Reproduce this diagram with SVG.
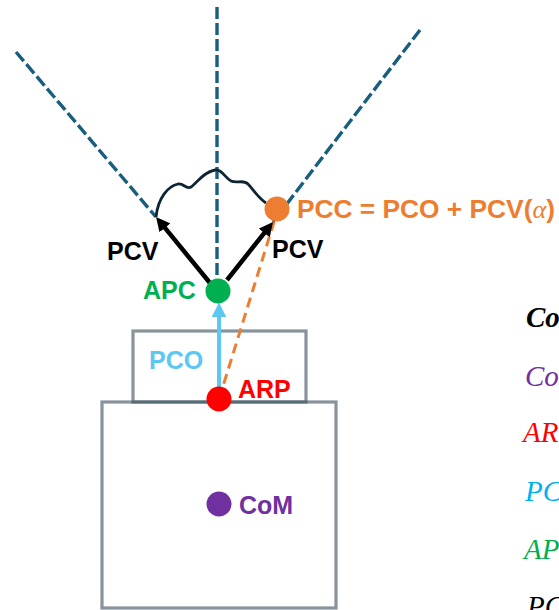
<svg xmlns="http://www.w3.org/2000/svg" width="559" height="610" viewBox="0 0 559 610">
<defs>
<style>
.box{fill:none;stroke:#3E5360;stroke-opacity:0.62;stroke-width:3.2}
.axis{fill:none;stroke:#1A5E7E;stroke-width:3.4;stroke-dasharray:12 4}
.pcv{fill:none;stroke:#000;stroke-width:4.5}
.lbl{font-family:"Liberation Sans",Arial,sans-serif;font-weight:bold;font-size:25px}
.side{font-family:"Liberation Serif","Times New Roman",serif;font-style:italic;font-size:29px}
</style>
<marker id="ahBlack" viewBox="0 0 14 14" refX="6" refY="7" markerWidth="14" markerHeight="14" markerUnits="userSpaceOnUse" orient="auto">
<path d="M0,0 L14,7 L0,14 z" fill="#000"/>
</marker>
<marker id="ahBlue" viewBox="0 0 14 14" refX="6" refY="7" markerWidth="15" markerHeight="15" markerUnits="userSpaceOnUse" orient="auto">
<path d="M0,0 L14,7 L0,14 z" fill="#5CC8F2"/>
</marker>
</defs>
<rect width="559" height="610" fill="#fff"/>

<g id="antenna-box">
<rect class="box" x="133" y="331" width="173" height="71"/>
</g>
<g id="body-box">
<rect class="box" x="102" y="402" width="234" height="206"/>
</g>

<g id="connectors">
<line class="axis" x1="16" y1="52" x2="156" y2="217"/>
<line class="axis" x1="217" y1="7" x2="217" y2="290"/>
<line class="axis" x1="420" y1="30" x2="273" y2="222"/>
<line x1="219" y1="399" x2="274" y2="222" stroke="#ED7D31" stroke-width="3" stroke-dasharray="10 6"/>
<line x1="219" y1="399" x2="219" y2="311" stroke="#5CC8F2" stroke-width="4" marker-end="url(#ahBlue)"/>
<line class="pcv" x1="210" y1="283" x2="161.1" y2="223.2" marker-end="url(#ahBlack)"/>
<line class="pcv" x1="227" y1="280" x2="268" y2="228.3" marker-end="url(#ahBlack)"/>
<path d="M156,217 C158,198 168,186 178,184 C184,183 186,190 191,187 C197,183 203,172 215,170 C222,169 225,178 231,181 C237,184 243,179 248,184 C253,189 258,198 266,203" fill="none" stroke="#0E2433" stroke-width="2.8"/>
</g>

<g id="APC">
<circle cx="218" cy="291" r="12.5" fill="#00B050"/>
<text class="lbl" x="143" y="299" fill="#00B050">APC</text>
</g>
<g id="PCC">
<circle cx="277" cy="209" r="12.5" fill="#ED7D31"/>
<text class="lbl" x="297" y="218" fill="#ED7D31" textLength="258" lengthAdjust="spacingAndGlyphs">PCC = PCO + PCV(<tspan font-family="'Liberation Serif',serif" font-style="italic" font-weight="normal">α</tspan>)</text>
</g>
<g id="PCV-left">
<text class="lbl" x="107" y="260" fill="#000">PCV</text>
</g>
<g id="PCV-right">
<text class="lbl" x="272" y="258" fill="#000">PCV</text>
</g>
<g id="PCO">
<text class="lbl" x="149" y="369" fill="#5CC8F2">PCO</text>
</g>
<g id="ARP">
<circle cx="219" cy="399" r="12.5" fill="#FF0000"/>
<text class="lbl" x="238" y="398" fill="#FF0000">ARP</text>
</g>
<g id="CoM">
<circle cx="219" cy="504" r="12.5" fill="#7030A0"/>
<text class="lbl" x="239" y="514" fill="#7030A0" font-size="26">CoM</text>
</g>

<g id="legend">
<text class="side" x="526" y="327" fill="#000" font-weight="bold">Co</text>
<text class="side" x="525" y="386" fill="#7030A0">Co</text>
<text class="side" x="523" y="442" fill="#FF0000">AR</text>
<text class="side" x="525" y="501" fill="#00B0F0">PC</text>
<text class="side" x="524" y="559" fill="#00B050">AP</text>
<text class="side" x="527" y="616" fill="#000">PC</text>
</g>
</svg>
